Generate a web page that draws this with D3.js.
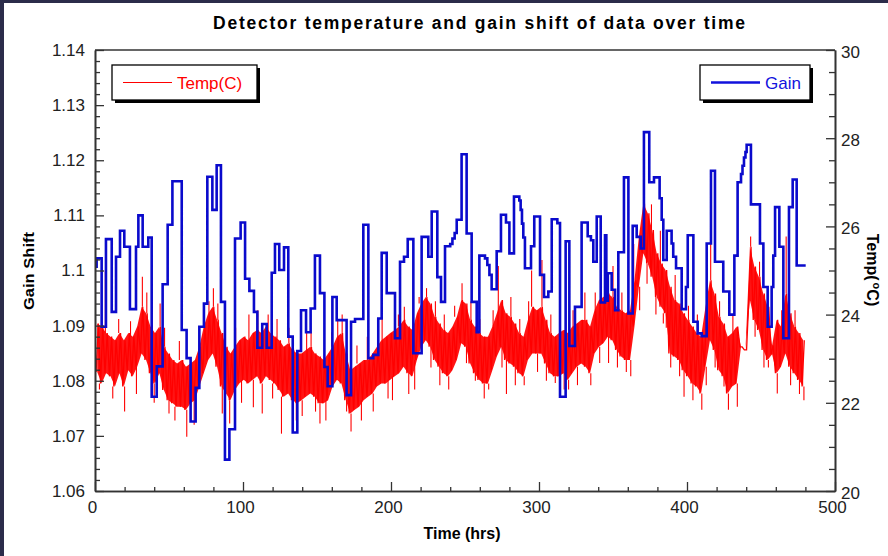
<!DOCTYPE html>
<html>
<head>
<meta charset="utf-8">
<script src="https://cdn.jsdelivr.net/npm/d3@7"></script>
<style>
  html, body { margin: 0; padding: 0; background: #fff; }
  svg { display: block; font-family: "Liberation Sans", Arial, sans-serif; }
</style>
</head>
<body>
<svg id="chart" width="888" height="556"></svg>
<script>
// ---------------- data ----------------
// Gain shift: step changes as [hour, gain]; the last value holds until gainEndHour.
const gainSteps = [
  [0,1.1007],[1.1,1.1022],[4.5,1.0898],[7.4,1.1057],[11.3,1.0925],[14.2,1.1025],[16.9,1.1072],[19.8,1.1043],
  [23.6,1.0930],[27.7,1.1043],[29.3,1.1100],[32.2,1.1043],[36.0,1.1060],[38.3,1.0771],[41.7,1.0826],[45.7,1.0975],
  [49.1,1.1083],[52.3,1.1162],[58.6,1.0892],[61.9,1.0841],[64.6,1.0726],[68.0,1.0787],[70.5,1.0898],[73.6,1.0940],
  [75.9,1.1170],[79.3,1.1110],[82.2,1.1191],[85.1,1.0943],[87.8,1.0657],[90.8,1.0712],[94.6,1.1058],[98.4,1.1087],
  [101.4,1.0985],[104.3,1.0963],[107.4,1.0925],[109.7,1.0860],[113.0,1.0903],[116.0,1.0860],[119.4,1.0996],[121.6,1.1048],
  [124.5,1.1001],[127.7,1.1042],[130.6,1.0880],[133.6,1.0706],[136.7,1.0854],[139.2,1.0928],[142.6,1.0888],[145.7,1.0931],
  [148.6,1.1027],[152.0,1.0959],[155.0,1.0825],[157.2,1.0790],[160.4,1.0952],[163.3,1.0910],[170.0,1.0774],[173.0,1.0907],
  [175.7,1.0912],[181.3,1.1083],[184.7,1.0841],[188.0,1.0847],[191.4,1.0913],[193.7,1.1032],[197.1,1.0959],[202.7,1.0877],
  [206.1,1.1016],[208.8,1.1025],[211.3,1.1057],[215.1,1.0850],[220.7,1.1061],[225.2,1.1025],[227.5,1.1107],[231.3,1.0988],
  [233.8,1.0943],[236.5,1.1044],[240.0,1.1048],[241.5,1.1058],[243.0,1.1068],[244.4,1.1092],[247.7,1.1211],[251.1,1.1067],
  [254.5,1.0943],[257.9,1.0888],[259.7,1.1027],[263.5,1.1022],[265.1,1.1010],[266.5,1.0992],[268.0,1.0966],[271.4,1.1035],
  [274.3,1.1101],[277.7,1.1087],[280.0,1.1031],[283.1,1.1134],[286.7,1.1127],[287.6,1.1110],[288.5,1.1085],[289.4,1.1060],
  [290.5,1.1004],[294.6,1.1044],[296.8,1.1098],[300.7,1.0992],[303.4,1.0952],[306.3,1.0962],[308.6,1.1093],[312.4,1.1086],
  [314.2,1.0771],[318.0,1.1053],[320.5,1.0863],[324.3,1.0934],[328.8,1.1087],[332.9,1.1062],[335.1,1.1055],[336.7,1.1016],
  [339.0,1.1098],[341.7,1.0942],[344.6,1.1064],[345.5,1.0945],[346.5,1.0995],[349.1,1.0965],[351.4,1.0928],[353.6,1.1033],
  [357.4,1.1169],[360.4,1.0922],[363.3,1.1081],[366.0,1.1061],[368.7,1.1040],[370.9,1.1251],[374.5,1.1160],[377.7,1.1169],
  [381.5,1.1131],[382.9,1.1092],[384.0,1.1019],[386.3,1.1072],[389.6,1.1049],[390.7,1.1025],[392.6,1.1004],[396.4,1.0930],
  [399.3,1.0970],[400.5,1.1064],[404.3,1.0907],[407.2,1.0886],[409.9,1.0881],[413.3,1.1049],[416.2,1.1181],[418.9,1.1016],
  [424.5,1.0962],[428.6,1.0920],[432.0,1.1027],[434.2,1.1160],[436.5,1.1175],[437.5,1.1190],[438.5,1.1205],[439.5,1.1215],
  [440.3,1.1228],[443.2,1.1120],[449.3,1.1049],[451.6,1.0970],[454.5,1.0898],[457.2,1.0970],[458.3,1.1027],[459.5,1.1115],
  [462.4,1.1043],[465.1,1.0877],[468.9,1.1115],[471.4,1.1165],[474.1,1.1009]
];
const gainEndHour = 480.2;

// Temperature (°C): low / high of the reading band in consecutive 3-hour bins from hour 1.5.
const tempBinStart = 1.5;
const tempBinHours = 3;
const tempHigh = [
  23.80,23.73,23.58,23.50,23.42,23.58,23.42,23.58,23.50,23.73,
  24.18,24.03,23.73,23.58,23.73,23.27,23.12,22.97,22.89,22.97,
  22.82,22.89,22.97,23.27,23.73,24.03,24.18,23.88,23.58,23.27,
  23.12,23.27,23.42,23.50,23.42,23.58,23.65,23.58,23.73,23.58,
  23.50,23.42,23.27,23.35,23.20,23.12,23.12,23.20,23.27,23.12,
  23.05,22.97,23.12,23.27,23.50,23.58,23.12,22.74,22.82,22.89,
  22.97,22.97,23.12,23.27,23.42,23.50,23.58,23.65,23.73,23.88,
  23.73,23.65,24.03,24.25,24.40,24.25,23.95,23.80,23.65,23.58,
  23.73,23.95,24.33,24.25,23.88,23.73,23.58,23.50,23.50,23.73,
  24.03,24.33,24.03,23.95,23.80,23.58,23.50,23.88,24.18,24.10,
  24.18,23.88,23.58,23.50,23.58,23.65,23.58,23.73,23.80,23.88,
  23.88,23.73,24.10,24.33,24.40,24.48,24.40,24.18,24.10,24.03,
  24.10,24.78,25.77,26.52,26.30,25.92,25.39,25.16,25.01,24.63,
  24.33,24.25,24.03,23.88,23.73,23.58,23.50,24.18,24.78,24.48,
  23.95,23.80,23.50,23.58,23.73,23.27,23.20,25.54,25.09,24.86,
  24.48,24.18,23.30,23.88,23.73,24.48,24.03,23.73,23.58,23.42
];
const tempLow = [
  22.70,22.44,22.67,22.60,22.37,22.67,22.37,22.74,22.60,22.82,
  23.12,22.97,22.67,22.44,22.67,22.29,22.06,21.99,21.91,21.91,
  21.84,21.99,22.06,22.37,22.67,22.97,23.12,22.82,22.37,22.21,
  22.06,22.29,22.44,22.52,22.44,22.52,22.60,22.44,22.60,22.52,
  22.44,22.29,22.14,22.21,22.06,21.99,22.06,22.14,22.21,22.14,
  21.99,21.99,22.06,22.37,22.52,22.44,22.06,21.76,21.84,21.91,
  22.06,22.14,22.21,22.37,22.44,22.44,22.52,22.60,22.67,22.82,
  22.67,22.60,22.97,23.27,23.42,23.27,22.97,22.82,22.67,22.60,
  22.74,22.97,23.35,23.27,22.89,22.67,22.52,22.44,22.44,22.74,
  23.05,23.27,22.97,22.89,22.82,22.67,22.60,22.97,23.12,23.12,
  23.12,22.89,22.67,22.60,22.60,22.67,22.52,22.67,22.82,22.89,
  22.82,22.67,23.12,23.27,23.35,23.50,23.42,23.20,23.05,22.97,
  22.97,23.73,24.63,25.39,25.16,24.86,24.40,24.18,24.03,23.12,
  23.05,22.97,22.74,22.60,22.44,22.37,22.21,22.82,23.42,23.20,
  22.74,22.60,22.21,22.37,22.44,23.27,23.20,24.33,23.88,23.65,
  23.20,22.97,23.10,22.67,22.82,23.12,22.82,22.67,22.52,22.37
];
// Single readings that stand out from the band: [hour, °C]
const tempSpikes = [
  [3,22.3],[7,25.0],[12,22.1],[16,23.9],[20,21.8],[24,23.85],[28,22.2],[32,24.86],[35,24.5],[40,22.0],
  [44,24.25],[47,23.7],[50,21.76],[54,21.6],[57,23.4],[62,21.23],[67,21.5],[72,23.7],[77,24.3],[80,24.6],
  [83,24.25],[86,21.76],[91,21.53],[95,23.7],[99,22.0],[104,24.0],[107,21.9],[110,24.1],[113,21.76],[117,24.0],
  [120,22.1],[123,23.9],[126,21.3],[131,23.7],[136,21.6],[140,21.7],[143,23.6],[146,23.6],[149,21.8],[152,21.53],
  [156,21.6],[160,23.6],[164,23.9],[167,24.0],[170,21.8],[173,21.35],[177,23.3],[180,21.6],[184,23.5],[188,21.8],
  [191,23.6],[194,23.9],[198,22.1],[201,22.06],[205,24.0],[209,24.18],[212,22.2],[216,22.3],[219,24.4],[224,24.6],
  [227,22.8],[230,24.3],[233,22.4],[236,24.0],[239,22.3],[243,24.2],[248,24.71],[251,22.9],[254,24.3],[257,22.5],
  [260,23.9],[263,22.1],[266,22.3],[269,24.1],[272.5,25.1],[275,22.8],[278,22.2],[281,24.4],[284,22.4],[287,23.9],
  [290,22.4],[293,24.3],[295,25.0],[299,22.7],[302,25.24],[305,22.5],[308,24.0],[311,22.45],[314,24.0],[317,22.3],
  [320,22.3],[323,24.1],[326,22.4],[331,24.5],[335,22.4],[338,24.5],[341,22.9],[345,25.6],[347,22.9],[350,25.1],
  [353,22.8],[356,24.5],[359,22.7],[362,22.6],[364,25.6],[368,24.1],[371,27.36],[373,24.7],[376,26.5],[379,24.0],
  [382,25.9],[384,23.8],[386,23.7],[389,22.8],[392,24.9],[395,22.6],[398,22.14],[401,24.2],[404,22.06],[407,24.0],
  [410,21.84],[413,22.4],[416,25.62],[419,22.8],[422,24.3],[425,22.37],[428,21.84],[431,24.0],[434,21.91],[443,25.77],
  [446,23.5],[449,25.2],[452,22.8],[455,22.8],[461,22.21],[464,24.1],[467,25.77],[470,22.4],[473,24.1],[476,22.2],[479,22.06]
];

// Axis ticks and labels
const timeTicks = [0, 100, 200, 300, 400, 500];
const gainTicks = [1.06, 1.07, 1.08, 1.09, 1.10, 1.11, 1.12, 1.13, 1.14];
const gainTickLabels = ["1.06", "1.07", "1.08", "1.09", "1.1", "1.11", "1.12", "1.13", "1.14"];
const tempTicks = [20, 22, 24, 26, 28, 30];

// ---------------- layout ----------------
const W = 888, H = 556;
const plot = { left: 95, right: 835, top: 50, bottom: 491 };
const axisColor = "#333";
const redColor = "#ff0000";
const blueColor = "#0a0acc";

const svg = d3.select("#chart");
svg.append("rect").attr("width", W).attr("height", H).attr("fill", "#fff");
// window edge
svg.append("rect").attr("x", 0).attr("y", 0).attr("width", W).attr("height", 3).attr("fill", "#2b2c4a");
svg.append("rect").attr("x", 0).attr("y", 0).attr("width", 4).attr("height", H).attr("fill", "#2b2c4a");

const x = d3.scaleLinear().domain([0, 500]).range([plot.left, plot.right]);
const yGain = d3.scaleLinear().domain([1.06, 1.14]).range([plot.bottom, plot.top]);
const yTemp = d3.scaleLinear().domain([20, 30]).range([plot.bottom, plot.top]);

svg.append("clipPath").attr("id", "plotClip").append("rect")
  .attr("x", plot.left).attr("y", plot.top)
  .attr("width", plot.right - plot.left).attr("height", plot.bottom - plot.top);

// ---------------- temperature trace ----------------
const tempBins = tempLow.map((lo, i) => ({ t: tempBinStart + i * tempBinHours, lo, hi: tempHigh[i] }));
const tempG = svg.append("g").attr("clip-path", "url(#plotClip)");

// dense band of readings
tempG.append("path")
  .datum(tempBins)
  .attr("d", d3.area().x(d => x(d.t)).y0(d => yTemp(d.lo)).y1(d => yTemp(d.hi)))
  .attr("fill", redColor).attr("fill-opacity", 0.92);

// the reading trace swinging between the band edges
const zig = [];
tempBins.forEach(b => { zig.push([b.t - 0.75, b.lo]); zig.push([b.t + 0.75, b.hi]); });
tempG.append("path")
  .datum(zig)
  .attr("d", d3.line().x(d => x(d[0])).y(d => yTemp(d[1])))
  .attr("fill", "none").attr("stroke", redColor).attr("stroke-width", 1.3);

// isolated readings drawn as vertical strokes from the band edge
tempG.selectAll("line.spike")
  .data(tempSpikes)
  .join("line")
  .attr("class", "spike")
  .attr("x1", d => x(d[0])).attr("x2", d => x(d[0]))
  .attr("y1", d => {
    const i = Math.max(0, Math.min(tempBins.length - 1, Math.round((d[0] - tempBinStart) / tempBinHours)));
    const b = tempBins[i];
    return yTemp(d[1] > b.hi ? b.hi : (d[1] < b.lo ? b.lo : d[1]));
  })
  .attr("y2", d => yTemp(d[1]))
  .attr("stroke", redColor).attr("stroke-width", 1.1);

// ---------------- gain step trace ----------------
const gainPoints = gainSteps.map(d => [d[0], d[1]]);
gainPoints.push([gainEndHour, gainSteps[gainSteps.length - 1][1]]);
const gainLine = d3.line().curve(d3.curveStepAfter).x(d => x(d[0])).y(d => yGain(d[1]));
svg.append("path")
  .datum(gainPoints)
  .attr("clip-path", "url(#plotClip)")
  .attr("d", gainLine)
  .attr("fill", "none")
  .attr("stroke", blueColor)
  .attr("stroke-width", 2.6)
  .attr("stroke-linejoin", "miter");

// ---------------- axes ----------------
function styleAxis(g) {
  g.select(".domain").attr("stroke", axisColor).attr("stroke-width", 1.6);
  g.selectAll(".tick line").attr("stroke", axisColor).attr("stroke-width", 1.3);
  g.selectAll(".tick text").attr("fill", "#222").attr("font-size", 17)
    .attr("font-family", "'Liberation Sans', Arial, sans-serif");
}
const minorGain = d3.range(0, 41).filter(i => i % 5 !== 0).map(i => 1.06 + i * 0.002);
const minorTime = d3.range(0, 26).filter(i => i % 5 !== 0).map(i => i * 20);
const minorTemp = d3.range(0, 21).filter(i => i % 4 !== 0).map(i => 20 + i * 0.5);

// left (gain)
svg.append("g").attr("transform", `translate(${plot.left},0)`)
  .call(d3.axisLeft(yGain).tickValues(minorGain).tickFormat("").tickSizeInner(-5).tickSizeOuter(0))
  .call(styleAxis);
svg.append("g").attr("transform", `translate(${plot.left},0)`)
  .call(d3.axisLeft(yGain).tickValues(gainTicks).tickFormat((d, i) => gainTickLabels[i])
        .tickSizeInner(-9).tickSizeOuter(0).tickPadding(10))
  .call(styleAxis);

// right (temperature)
svg.append("g").attr("transform", `translate(${plot.right},0)`)
  .call(d3.axisRight(yTemp).tickValues(minorTemp).tickFormat("").tickSizeInner(-6).tickSizeOuter(0))
  .call(styleAxis);
svg.append("g").attr("transform", `translate(${plot.right},0)`)
  .call(d3.axisRight(yTemp).tickValues(tempTicks).tickFormat(d3.format("d"))
        .tickSizeInner(-9).tickSizeOuter(0).tickPadding(6))
  .call(styleAxis)
  .selectAll(".tick text").attr("dy", "0.42em");

// bottom (time)
svg.append("g").attr("transform", `translate(0,${plot.bottom})`)
  .call(d3.axisBottom(x).tickValues(minorTime).tickFormat("").tickSizeInner(-4).tickSizeOuter(0))
  .call(styleAxis);
svg.append("g").attr("transform", `translate(0,${plot.bottom})`)
  .call(d3.axisBottom(x).tickValues(timeTicks).tickFormat(d3.format("d"))
        .tickSizeInner(-9).tickSizeOuter(0).tickPadding(10))
  .call(styleAxis)
  .selectAll(".tick text").attr("dx", -3);

// top border of the frame
svg.append("line")
  .attr("x1", plot.left).attr("x2", plot.right)
  .attr("y1", plot.top).attr("y2", plot.top)
  .attr("stroke", axisColor).attr("stroke-width", 1.6);

// ---------------- titles ----------------
svg.append("text")
  .attr("x", 213).attr("y", 29)
  .attr("font-size", 17.5).attr("font-weight", "bold").attr("fill", "#000")
  .attr("textLength", 532).attr("lengthAdjust", "spacing")
  .text("Detector temperature and gain shift of data over time");

svg.append("text")
  .attr("transform", "translate(462,539)")
  .attr("text-anchor", "middle")
  .attr("font-size", 16).attr("font-weight", "bold").attr("fill", "#000")
  .text("Time (hrs)");

svg.append("text")
  .attr("transform", "translate(34,271) rotate(-90)")
  .attr("text-anchor", "middle")
  .attr("font-size", 15).attr("font-weight", "bold").attr("fill", "#000")
  .attr("textLength", 78).attr("lengthAdjust", "spacingAndGlyphs")
  .text("Gain Shift");

const tempTitle = svg.append("text")
  .attr("transform", "translate(867,270) rotate(90)")
  .attr("text-anchor", "middle")
  .attr("font-size", 16).attr("font-weight", "bold").attr("fill", "#000");
tempTitle.append("tspan").text("Temp(");
tempTitle.append("tspan").attr("font-size", 11).attr("dy", -6).attr("dx", 2).text("o");
tempTitle.append("tspan").attr("dy", 6).text("C)");

// ---------------- legends ----------------
function legend(x0, y0, w, h, color, lineW, label, lineLen) {
  const g = svg.append("g");
  g.append("rect").attr("x", x0 + 3).attr("y", y0 + 3).attr("width", w).attr("height", h).attr("fill", "#000");
  g.append("rect").attr("x", x0).attr("y", y0).attr("width", w).attr("height", h)
    .attr("fill", "#fff").attr("stroke", "#000").attr("stroke-width", 1.3);
  g.append("line").attr("x1", x0 + 11).attr("x2", x0 + 11 + lineLen)
    .attr("y1", y0 + h / 2).attr("y2", y0 + h / 2)
    .attr("stroke", color).attr("stroke-width", lineW);
  g.append("text").attr("x", x0 + 16 + lineLen).attr("y", y0 + h / 2 + 6)
    .attr("font-size", 17).attr("fill", color).text(label);
}
legend(112, 65, 145, 35, redColor, 1.2, "Temp(C)", 49);
legend(700, 65, 110, 35, "#1212dd", 2.6, "Gain", 49);
</script>
</body>
</html>
